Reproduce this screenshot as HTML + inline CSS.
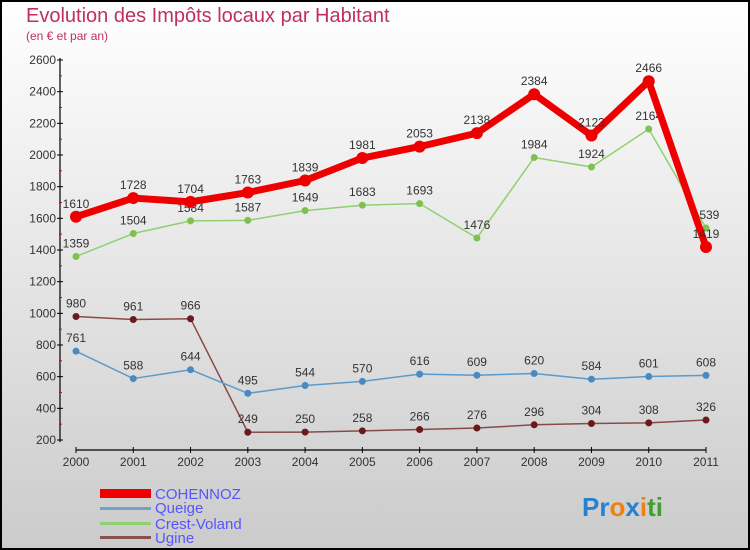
<!DOCTYPE html>
<html><head><meta charset="utf-8"><style>
body{margin:0}
#c{width:750px;height:550px;position:relative;overflow:hidden;font-family:"Liberation Sans",sans-serif}
</style></head><body>
<div id="c">
<svg id="s" width="750" height="550" xmlns="http://www.w3.org/2000/svg">
<defs><linearGradient id="bg" x1="0" y1="0" x2="0" y2="1"><stop offset="0" stop-color="#ffffff"/><stop offset="1" stop-color="#cbcbcb"/></linearGradient></defs>
<rect x="1" y="1" width="748" height="548" fill="url(#bg)" stroke="#000" stroke-width="2"/>
<text x="26" y="22" font-size="20" fill="#c0305a">Evolution des Impôts locaux par Habitant</text>
<text x="26" y="40" font-size="12" fill="#c0305a">(en € et par an)</text>
<g id="axes"></g><g id="series"></g>
<g>
<rect x="100" y="489" width="51" height="9" fill="#e00"/>
<text x="155" y="499" font-size="15" fill="#5555ff">COHENNOZ</text>
<rect x="100" y="507" width="51" height="3" fill="#6ea3cc"/>
<text x="155" y="513" font-size="15" fill="#5555ff">Queige</text>
<rect x="100" y="522" width="51" height="3" fill="#90d070"/>
<text x="155" y="529" font-size="15" fill="#5555ff">Crest-Voland</text>
<rect x="100" y="536" width="51" height="3" fill="#8a5050"/>
<text x="155" y="543" font-size="15" fill="#5555ff">Ugine</text>
</g>
<text x="582" y="516" font-size="26" font-weight="bold"><tspan fill="#2a80d0">Pr</tspan><tspan fill="#f08010">o</tspan><tspan fill="#2a80d0">x</tspan><tspan fill="#f08010">i</tspan><tspan fill="#40a030">ti</tspan></text>
</svg></div>
<script>
const years=[2000,2001,2002,2003,2004,2005,2006,2007,2008,2009,2010,2011];
const yTicks=[200,400,600,800,1000,1200,1400,1600,1800,2000,2200,2400,2600];
const cohennoz=[1610,1728,1704,1763,1839,1981,2053,2138,2384,2123,2466,1419];
const queige=[761,588,644,495,544,570,616,609,620,584,601,608];
const crest=[1359,1504,1584,1587,1649,1683,1693,1476,1984,1924,2164,1539];
const ugine=[980,961,966,249,250,258,266,276,296,304,308,326];
const NS="http://www.w3.org/2000/svg";
const X=i=>76+i*(630/11);
const Y=v=>440-(v-200)*(380/2400);
function mk(t,a,p){const e=document.createElementNS(NS,t);for(const k in a)e.setAttribute(k,a[k]);p.appendChild(e);return e;}
const ax=document.getElementById('axes');
let l=mk('line',{x1:60,y1:58,x2:60,y2:442,stroke:'#000','stroke-width':1.2},ax);


l=mk('line',{x1:76,y1:450,x2:706,y2:450,stroke:'#000','stroke-width':1.2},ax);


yTicks.forEach(v=>{
 mk('line',{x1:57,y1:Y(v),x2:63,y2:Y(v),stroke:'#000'},ax);
 if(v<2600) mk('line',{x1:59,y1:Y(v+100),x2:62,y2:Y(v+100),stroke:'#d00'},ax);
 const t=mk('text',{x:56,y:Y(v)+4,'font-size':12,fill:'#333','text-anchor':'end'},ax);
 t.textContent=v;
 
 
});
years.forEach((y,i)=>{
 mk('line',{x1:X(i),y1:447,x2:X(i),y2:453,stroke:'#000'},ax);
 const t=mk('text',{x:X(i),y:466,'font-size':12,fill:'#333','text-anchor':'middle'},ax);
 t.textContent=y;
 
 
});
const sg=document.getElementById('series');
function series(data,name,color,w,r,dot){
 const g=mk('g',{},sg);
 
 
 mk('polyline',{points:data.map((v,i)=>X(i)+','+Y(v)).join(' '),fill:'none',stroke:color,'stroke-width':w,'stroke-linejoin':'round'},g);
 data.forEach((v,i)=>{
  const c=mk('circle',{cx:X(i),cy:Y(v),r:r,fill:dot},g);
  
  
  const t=mk('text',{x:X(i),y:Y(v)-9,'font-size':12,fill:'#333','text-anchor':'middle'},g);
  t.textContent=v;
  
  
 });
}
series(ugine,'ugine','#8a4a4a',1.5,3.5,'#6a1a1a');
series(queige,'queige','#5a9acc',1.5,3.5,'#4a8ac0');
series(crest,'crest-voland','#90d070',1.5,3.5,'#80c050');
series(cohennoz,'cohennoz','#ee0000',7,6,'#ee0000');
</script>
</body></html>
